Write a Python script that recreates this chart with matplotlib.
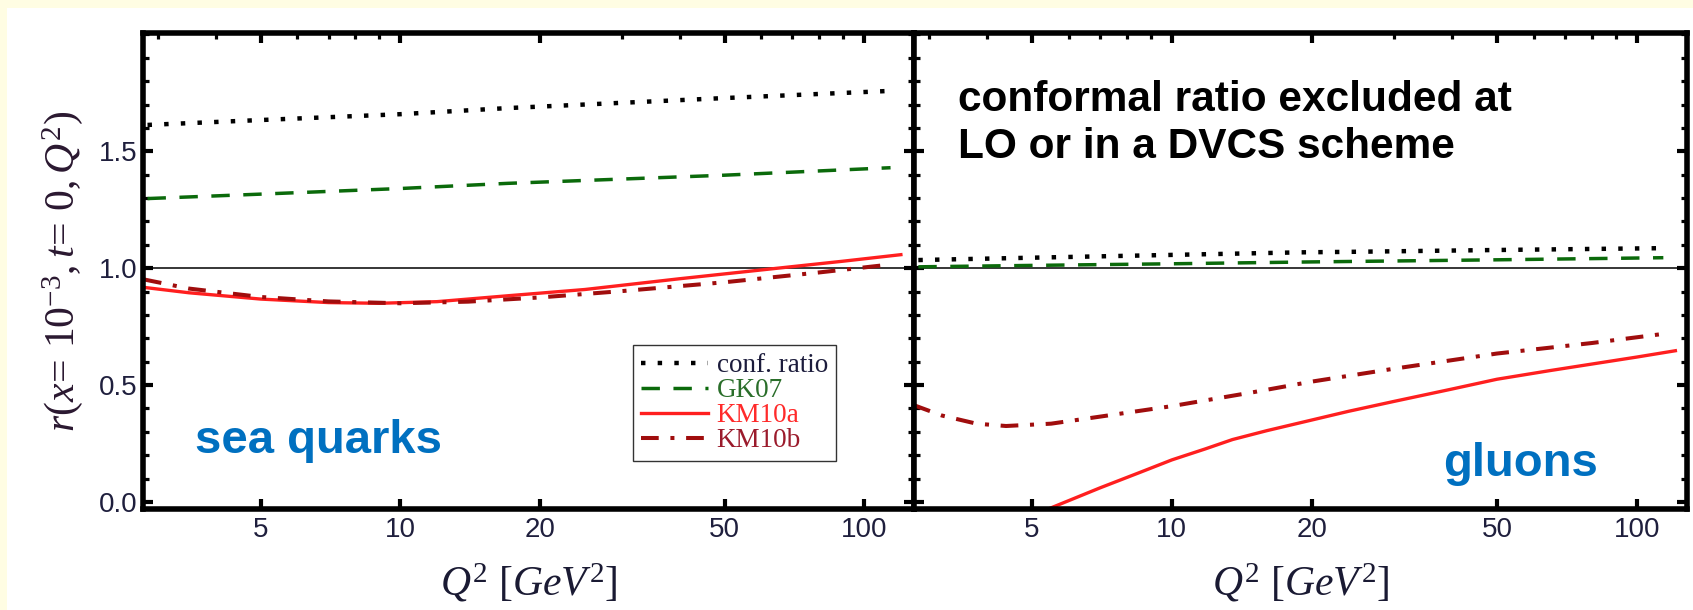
import numpy as np
import matplotlib.pyplot as plt
from matplotlib.patches import Rectangle

plt.rcParams['font.family'] = ['Liberation Sans', 'DejaVu Sans']
plt.rcParams['mathtext.fontset'] = 'custom'
plt.rcParams['mathtext.rm'] = 'Liberation Serif'
plt.rcParams['mathtext.it'] = 'Liberation Serif:italic'

# sea quarks panel (left)
q_conf_sea = [2.85, 5, 10, 17, 50, 115]
r_conf_sea = [1.613, 1.634, 1.659, 1.685, 1.728, 1.759]
q_gk_sea = [2.85, 5, 10, 17, 50, 114]
r_gk_sea = [1.298, 1.317, 1.341, 1.363, 1.398, 1.430]
q_km10a_sea = [2.8, 3.5, 5, 7, 9, 12, 17, 25, 40, 65, 90, 120]
r_km10a_sea = [0.918, 0.895, 0.868, 0.853, 0.850, 0.857, 0.882, 0.909, 0.955, 1.000, 1.030, 1.058]
q_km10b_sea = [2.8, 3.5, 5, 7, 10, 14, 20, 30, 50, 80, 114]
r_km10b_sea = [0.952, 0.913, 0.877, 0.858, 0.850, 0.857, 0.875, 0.902, 0.940, 0.982, 1.016]

# gluons panel (right)
q_conf_glu = [2.85, 5, 10, 19, 24, 50, 116]
r_conf_glu = [1.035, 1.045, 1.057, 1.068, 1.070, 1.078, 1.086]
q_gk_glu = [2.85, 5, 10, 20, 50, 114]
r_gk_glu = [1.006, 1.012, 1.019, 1.027, 1.036, 1.045]
q_km10a_glu = [5.2, 5.5, 7, 8.5, 10, 11.8, 13.5, 16, 18.8, 24, 30, 40, 50, 65, 80, 100, 121]
r_km10a_glu = [-0.046, -0.025, 0.060, 0.125, 0.180, 0.227, 0.267, 0.305, 0.338, 0.388, 0.430,
               0.483, 0.525, 0.562, 0.590, 0.620, 0.647]
q_km10b_glu = [2.78, 3.2, 3.8, 4.4, 5.5, 7, 10, 15, 20, 30, 50, 80, 115]
r_km10b_glu = [0.415, 0.370, 0.335, 0.325, 0.335, 0.365, 0.410, 0.470, 0.515, 0.570, 0.635, 0.680, 0.720]

labels = ['conf. ratio', 'GK07', 'KM10a', 'KM10b']
label_colors = ['#1c1c3c', '#2a6e2a', '#ff2a2a', '#9b1b2c']

x_major = [5, 10, 20, 50, 100]
x_minor = [3, 4, 6, 7, 8, 9, 30, 40, 60, 70, 80, 90]
y_major = [0.0, 0.5, 1.0, 1.5]
y_minor = np.round(np.arange(0.0, 2.01, 0.1), 1)

tick_color = '#1f1f3d'
yellow = '#fffde3'

fig = plt.figure(figsize=(16.93, 6.10), dpi=100)
fig.patch.set_facecolor(yellow)
fig.patches.append(Rectangle((7 / 1693, 0), 1, 1 - 8 / 610, transform=fig.transFigure,
                             facecolor='white', edgecolor='none', zorder=-10))

ax1 = fig.add_axes([0.0846, 0.1656, 0.4552, 0.7798])
ax2 = fig.add_axes([0.5399, 0.1656, 0.4564, 0.7798], sharey=ax1)


def draw(ax, qc, rc, qg, rg, qa, ra, qb, rb):
    ax.axhline(1.0, color='black', lw=1.1, zorder=1)
    l1, = ax.plot(qc, rc, color='black', lw=3.2, dashes=(1.0, 2.75), dash_capstyle='butt')
    l2, = ax.plot(qg, rg, color='#0b6a0b', lw=2.5, dashes=(5.3, 3.9), dash_capstyle='butt')
    l3, = ax.plot(qa, ra, color='#ff1f1f', lw=2.4)
    l4, = ax.plot(qb, rb, color='#a00d0d', lw=2.9, dashes=(4.4, 2.9, 1.0, 2.9), dash_capstyle='butt')
    ax.set_xscale('log')
    ax.set_xlim(2.79, 128)
    ax.set_ylim(-0.03, 2.005)
    ax.set_xticks(x_major)
    ax.set_xticklabels([str(v) for v in x_major])
    ax.set_xticks(x_minor, minor=True)
    ax.set_xticklabels([], minor=True)
    ax.set_yticks(y_major)
    ax.set_yticks(y_minor, minor=True)
    for s in ax.spines.values():
        s.set_linewidth(4.0)
    ax.tick_params(which='major', direction='in', length=7.5, width=3.0,
                   top=True, bottom=True, left=True, right=True,
                   labelsize=20, labelcolor=tick_color, pad=6)
    ax.tick_params(which='minor', direction='in', length=4.2, width=2.3,
                   left=True, right=True)
    ax.tick_params(axis='x', which='minor', bottom=False, top=True)
    ax.tick_params(axis='y', which='major', pad=4)
    ax.set_xlabel(r'$Q^2\ [GeV^2]$', fontsize=30, color='#1a1a33', labelpad=13)
    return [l1, l2, l3, l4]


lines = draw(ax1, q_conf_sea, r_conf_sea, q_gk_sea, r_gk_sea,
             q_km10a_sea, r_km10a_sea, q_km10b_sea, r_km10b_sea)
draw(ax2, q_conf_glu, r_conf_glu, q_gk_glu, r_gk_glu,
     q_km10a_glu, r_km10a_glu, q_km10b_glu, r_km10b_glu)

ax1.set_yticklabels(['0.0', '0.5', '1.0', '1.5'])
ax2.tick_params(labelleft=False)
ax1.set_ylabel(r'$r(x\!=\,\mathit{10}^{-3},t\!=\,0,Q^2)$', fontsize=30, color='#2a1830', labelpad=10)

leg = ax1.legend(lines, labels, loc='upper left', bbox_to_anchor=(0.635, 0.345),
                 borderaxespad=0, frameon=True, fancybox=False, edgecolor='black',
                 handlelength=2.5, handletextpad=0.3, borderpad=0.3, labelspacing=0.0,
                 prop={'family': 'Liberation Serif', 'size': 19.5})
leg.get_frame().set_linewidth(1.0)
for t, c in zip(leg.get_texts(), label_colors):
    t.set_color(c)

ax1.text(0.067, 0.1167, 'sea quarks', transform=ax1.transAxes, fontsize=34,
         fontweight='bold', color='#0070c0', ha='left', va='baseline')
ax2.text(0.685, 0.069, 'gluons', transform=ax2.transAxes, fontsize=34,
         fontweight='bold', color='#0070c0', ha='left', va='baseline')
# va='baseline' on two lines anchors the last line
ax2.text(0.0573, 0.7385, 'conformal ratio excluded at\nLO or in a DVCS scheme',
         transform=ax2.transAxes, fontsize=30.5, fontweight='bold', color='black',
         ha='left', va='baseline', linespacing=1.2)

fig.savefig('out.png', dpi=100, facecolor=fig.get_facecolor())
